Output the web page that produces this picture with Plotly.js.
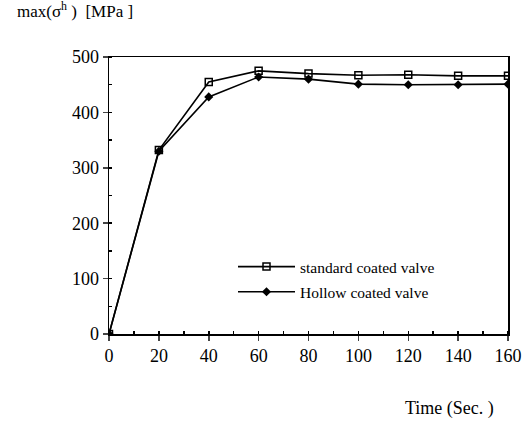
<!DOCTYPE html>
<html>
<head>
<meta charset="utf-8">
<script src="https://cdn.plot.ly/plotly-3.0.1.min.js"></script>
<style>html,body{margin:0;padding:0;background:#fff;}#chart{width:526px;height:421px;}</style>
</head>
<body>
<div id="chart"></div>
<script>
const time = [0, 20, 40, 60, 80, 100, 120, 140, 160];
const standardValve = [0, 332, 455, 475, 470, 467, 468, 466, 466];
const hollowValve = [0, 330, 428, 464, 460, 451, 450, 450, 451];
const seriesNames = ['standard coated valve', 'Hollow coated valve'];
const yTitle = 'max(σ<sup>h</sup> )  [MPa ]';
const xTitle = 'Time (Sec. )';

const fam = '"Liberation Serif", "Times New Roman", serif';

const traces = [
  {x: time, y: standardValve, name: seriesNames[0], legendgroup: 'a', type: 'scatter', mode: 'lines+markers',
   line: {color: '#000', width: 1.6},
   marker: {symbol: 'square-open', size: 7, color: '#000', line: {width: 1.5, color: '#000'}}},
  {x: time, y: hollowValve, name: seriesNames[1], legendgroup: 'b', type: 'scatter', mode: 'lines+markers',
   line: {color: '#000', width: 1.6},
   marker: {symbol: 'diamond', size: 7, color: '#000'}}
];

const layout = {
  width: 526, height: 421,
  margin: {l: 109, r: 18, t: 57, b: 87},
  paper_bgcolor: '#fff', plot_bgcolor: '#fff',
  font: {family: fam, color: '#000', size: 16},
  showlegend: true,
  legend: {x: (233 - 109) / 399, y: (334 - 250) / 277, xanchor: 'left', yanchor: 'top', bgcolor: 'rgba(0,0,0,0)',
           itemwidth: 57, tracegroupgap: 2,
           font: {family: fam, size: 15.5, color: '#000'}},
  title: {text: yTitle, x: 17/526, xanchor: 'left', y: 1 - 11/421, yanchor: 'middle',
          font: {family: fam, size: 17, color: '#000'}},
  xaxis: {range: [0, 160], tickvals: time, ticks: 'outside', ticklen: 5, tickwidth: 1.5,
          showline: true, linecolor: '#000', linewidth: 1.5, mirror: true, showgrid: false, zeroline: false,
          tickfont: {family: fam, size: 18, color: '#000'},
          minor: {dtick: 10, ticks: 'inside', ticklen: 3, tickcolor: '#000', showgrid: false}},
  yaxis: {range: [0, 500], dtick: 100, ticks: 'outside', ticklen: 5, tickwidth: 1.5,
          showline: true, linecolor: '#000', linewidth: 1.5, mirror: true, showgrid: false, zeroline: false,
          tickfont: {family: fam, size: 18, color: '#000'},
          minor: {dtick: 50, ticks: 'inside', ticklen: 3, tickcolor: '#000', showgrid: false}},
  annotations: [
    {text: xTitle, xref: 'paper', yref: 'paper', x: (449 - 109) / 399, y: (334 - 408) / 277, xanchor: 'center', yanchor: 'middle',
     showarrow: false, font: {family: fam, size: 18, color: '#000'}}
  ]
};

Plotly.newPlot('chart', traces, layout, {displayModeBar: false, staticPlot: true});
</script>
</body>
</html>
